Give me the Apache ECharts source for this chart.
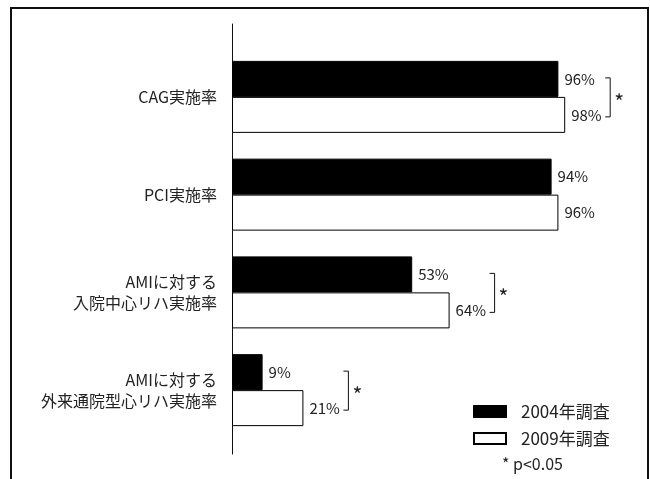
<!DOCTYPE html>
<html>
<head>
<meta charset="utf-8">
<script src="https://cdn.jsdelivr.net/npm/echarts@6/dist/echarts.min.js"></script>
<style>
  html, body { margin: 0; padding: 0; background: #fff; }
  #chart { width: 650px; height: 479px; }
</style>
</head>
<body>
<div id="chart"></div>
<script>
  // 項目名
  const categories = ['CAG実施率', 'PCI実施率', 'AMIに対する\n入院中心リハ実施率', 'AMIに対する\n外来通院型心リハ実施率'];
  const seriesNames = ['2004年調査', '2009年調査'];
  const values2004 = [96, 94, 53, 9];
  const values2009 = [98, 96, 64, 21];
  // 有意差あり (p<0.05)
  const significant = [true, false, true, true];

  const chart = echarts.init(document.getElementById('chart'));
  const font = '"Noto Sans CJK JP", "Noto Sans", sans-serif';

  // 有意差の括弧：各項目の大きい方の値の右側に描く
  const bracketData = [];
  for (let i = 0; i < categories.length; i++) {
    if (significant[i]) bracketData.push([Math.max(values2004[i], values2009[i]), i]);
  }

  const option = {
    animation: false,
    textStyle: { fontFamily: font },
    title: {
      text: '* p<0.05',
      left: 497,
      top: 451,
      textStyle: { fontSize: 16, fontWeight: 'normal', color: '#222', fontFamily: font }
    },
    legend: {
      orient: 'vertical',
      left: 468,
      top: 398,
      itemWidth: 32,
      itemHeight: 11,
      itemGap: 10,
      icon: 'rect',
      textStyle: { fontSize: 17, color: '#222', padding: [0, 0, 0, 10] },
      data: seriesNames
    },
    graphic: [{
      type: 'rect',
      shape: { x: 11, y: 8, width: 637, height: 490 },
      style: { fill: 'none', stroke: '#111', lineWidth: 2 },
      silent: true
    }],
    grid: [
      { left: 232, top: 48, width: 340, height: 391 },
      { left: 232, top: 24, width: 340, bottom: 25 }
    ],
    xAxis: [
      { type: 'value', min: 0, max: 100, show: false, gridIndex: 0 },
      { type: 'value', min: 0, max: 100, show: false, gridIndex: 1 }
    ],
    yAxis: [
      {
        type: 'category',
        data: categories,
        inverse: true,
        gridIndex: 0,
        axisLine: { show: false },
        axisTick: { show: false },
        axisLabel: { fontSize: 16, color: '#222', margin: 15, lineHeight: 21, align: 'right' }
      },
      {
        type: 'value',
        gridIndex: 1,
        min: 0, max: 1,
        axisLine: { show: true, lineStyle: { color: '#111', width: 1 } },
        axisTick: { show: false },
        axisLabel: { show: false },
        splitLine: { show: false }
      }
    ],
    series: [
      {
        name: seriesNames[0],
        type: 'bar',
        data: values2004,
        barWidth: 36,
        barGap: '0%',
        itemStyle: { color: '#000', borderColor: '#000', borderWidth: 1 },
        label: { show: true, position: 'right', distance: 6, formatter: '{c}%', fontSize: 15, color: '#222' }
      },
      {
        name: seriesNames[1],
        type: 'bar',
        data: values2009,
        barWidth: 36,
        barGap: '0%',
        itemStyle: { color: '#fff', borderColor: '#000', borderWidth: 1 },
        label: { show: true, position: 'right', distance: 6, formatter: '{c}%', fontSize: 15, color: '#222' }
      },
      {
        type: 'custom',
        data: bracketData,
        encode: { x: 0, y: 1 },
        silent: true,
        renderItem: function (params, api) {
          const p = api.coord([api.value(0), api.value(1)]);
          const x = p[0] + 45;
          const cy = p[1];
          const top = cy - 19, bot = cy + 20;
          return {
            type: 'group',
            children: [
              {
                type: 'polyline',
                shape: { points: [[x - 5, top], [x, top], [x, bot], [x - 5, bot]] },
                style: { stroke: '#111', lineWidth: 1, fill: 'none' }
              },
              {
                type: 'text',
                style: { text: '*', x: x + 4, y: cy + 5, fontSize: 21, fill: '#222', fontFamily: font, verticalAlign: 'middle' }
              }
            ]
          };
        }
      }
    ]
  };

  chart.setOption(option);
</script>
</body>
</html>
